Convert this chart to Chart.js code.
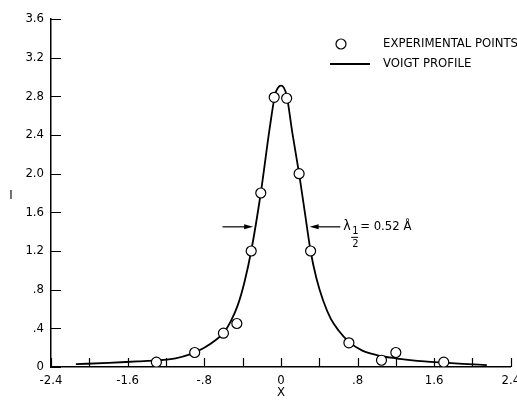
<!DOCTYPE html>
<html>
<head>
<meta charset="utf-8">
<script src="https://cdn.jsdelivr.net/npm/chart.js@4.4.1/dist/chart.umd.min.js"></script>
<style>
  html, body { margin: 0; padding: 0; background: #fff; }
  canvas { display: block; }
</style>
</head>
<body>
<canvas id="chart" width="517" height="402"></canvas>
<script>
// experimental points (circles)
const pointX = [-1.30, -0.90, -0.60, -0.46, -0.31, -0.21, -0.07, 0.06, 0.19, 0.31, 0.71, 1.05, 1.20, 1.70];
const pointY = [0.05, 0.15, 0.35, 0.45, 1.20, 1.80, 2.79, 2.78, 2.00, 1.20, 0.25, 0.07, 0.15, 0.05];

// Voigt profile
const curveX = [-2.14, -1.8, -1.5, -1.3, -1.1, -0.95, -0.8, -0.68, -0.6, -0.52, -0.45, -0.38, -0.31, -0.21, -0.12, -0.06, -0.03, 0,
  0.03, 0.06, 0.12, 0.19, 0.25, 0.31, 0.37, 0.44, 0.52, 0.6, 0.71, 0.85, 1.0, 1.2, 1.35, 1.5, 1.69, 1.9, 2.15];
const curveY = [0.03, 0.042, 0.058, 0.068, 0.09, 0.13, 0.2, 0.28, 0.35, 0.48, 0.64, 0.88, 1.2, 1.8, 2.45, 2.82, 2.89, 2.91,
  2.89, 2.81, 2.42, 2.0, 1.6, 1.2, 0.92, 0.69, 0.5, 0.38, 0.26, 0.17, 0.124, 0.09, 0.072, 0.058, 0.045, 0.032, 0.02];

const xLabels = ["-2.4", "-1.6", "-.8", "0", ".8", "1.6", "2.4"];
const yLabels = ["0", ".4", ".8", "1.2", "1.6", "2.0", "2.4", "2.8", "3.2", "3.6"];

const halfWidthY = 1.45;
const FONT = "'Liberation Sans Narrow', 'DejaVu Sans Condensed', 'Arial Narrow', sans-serif";

const decor = {
  id: "decor",
  afterDraw(chart) {
    const c = chart.ctx, xs = chart.scales.x, ys = chart.scales.y, a = chart.chartArea;
    c.save();
    c.strokeStyle = "#000";
    c.fillStyle = "#000";
    c.lineWidth = 1.2;
    // inward tick marks
    c.beginPath();
    xs.ticks.forEach(t => {
      const px = Math.round(xs.getPixelForValue(t.value)) + 0.5;
      c.moveTo(px, a.bottom); c.lineTo(px, a.bottom - 9);
    });
    ys.ticks.forEach(t => {
      const py = Math.round(ys.getPixelForValue(t.value)) + 0.5;
      c.moveTo(a.left, py); c.lineTo(a.left + 10, py);
    });
    c.stroke();

    // y title, upright
    c.font = "13px " + FONT;
    c.textAlign = "center";
    c.textBaseline = "middle";
    c.fillText("I", 11, 196);

    // half width arrows
    const ay = ys.getPixelForValue(halfWidthY);
    const arrow = (x0, x1) => {
      const dir = Math.sign(x1 - x0);
      c.beginPath(); c.moveTo(x0, ay); c.lineTo(x1 - dir * 6, ay); c.stroke();
      c.beginPath(); c.moveTo(x1, ay); c.lineTo(x1 - dir * 9, ay - 2.5); c.lineTo(x1 - dir * 9, ay + 2.5); c.closePath(); c.fill();
    };
    arrow(xs.getPixelForValue(-0.61), xs.getPixelForValue(-0.29));
    arrow(xs.getPixelForValue(0.62), xs.getPixelForValue(0.30));

    const lx = xs.getPixelForValue(0.65);
    c.textAlign = "left";
    c.font = "14px " + FONT;
    c.fillText("λ", lx, ay);
    c.font = "11px " + FONT;
    c.fillText("1", lx + 9, ay + 4);
    c.fillRect(lx + 8, ay + 10, 7, 1);
    c.fillText("2", lx + 9, ay + 17);
    c.font = "13px " + FONT;
    c.fillText("= 0.52 Å", lx + 17, ay);

    // legend
    c.font = "13px " + FONT;
    c.lineWidth = 1.2;
    c.beginPath(); c.arc(341, 44, 5, 0, Math.PI * 2); c.fillStyle = "#fff"; c.fill(); c.stroke();
    c.fillStyle = "#000";
    c.lineWidth = 1.8;
    c.beginPath(); c.moveTo(330, 64); c.lineTo(370, 64); c.stroke();
    c.fillText("EXPERIMENTAL POINTS", 383, 44);
    c.fillText("VOIGT PROFILE", 383, 64);
    c.restore();
  }
};

new Chart(document.getElementById("chart"), {
  type: "scatter",
  data: {
    datasets: [
      {
        label: "Experimental points",
        data: pointX.map((x, i) => ({ x, y: pointY[i] })),
        pointStyle: "circle",
        pointRadius: 5,
        pointBorderWidth: 1.2,
        pointBackgroundColor: "#fff",
        pointBorderColor: "#000",
        showLine: false,
        order: 0,
      },
      {
        label: "Voigt profile",
        data: curveX.map((x, i) => ({ x, y: curveY[i] })),
        showLine: true,
        borderColor: "#000",
        borderWidth: 1.8,
        pointRadius: 0,
        cubicInterpolationMode: "monotone",
        order: 1,
      },
    ],
  },
  options: {
    responsive: false,
    animation: false,
    layout: { padding: { top: 19, right: 5, left: 0, bottom: 0 } },
    plugins: { legend: { display: false }, tooltip: { enabled: false } },
    scales: {
      x: {
        type: "linear",
        min: -2.4,
        max: 2.4,
        grid: { display: false, drawTicks: false },
        border: { display: true, color: "#000", width: 1.5 },
        ticks: {
          stepSize: 0.4,
          autoSkip: false,
          maxRotation: 0,
          padding: 6,
          color: "#000",
          font: { family: FONT, size: 13 },
          callback: (v, i) => (i % 2 === 0 ? xLabels[i / 2] : ""),
        },
        title: { display: true, text: "X", color: "#000", font: { family: FONT, size: 13 }, padding: { top: 0, bottom: 2 } },
        afterFit: (s) => { s.height = 35; s.paddingLeft = 0; s.paddingRight = 0; },
      },
      y: {
        min: 0,
        max: 3.6,
        grid: { display: false, drawTicks: false },
        border: { display: true, color: "#000", width: 1.5 },
        ticks: {
          stepSize: 0.4,
          autoSkip: false,
          padding: 7,
          color: "#000",
          font: { family: FONT, size: 13 },
          callback: (v, i) => yLabels[i],
        },
        afterFit: (s) => { s.width = 51; s.paddingTop = 0; s.paddingBottom = 0; },
      },
    },
  },
  plugins: [decor],
});
</script>
</body>
</html>
